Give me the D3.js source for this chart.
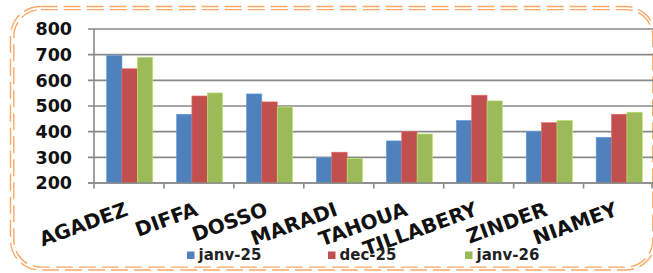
<!DOCTYPE html>
<html><head><meta charset="utf-8">
<script src="https://cdn.jsdelivr.net/npm/d3@7"></script>
<style>html,body{margin:0;padding:0;background:#fff;overflow:hidden}</style>
</head><body>
<svg id="c" width="653" height="273"></svg>
<script>
const categories = ["AGADEZ","DIFFA","DOSSO","MARADI","TAHOUA","TILLABERY","ZINDER","NIAMEY"];
const seriesNames = ["janv-25","dec-25","janv-26"];
const janv25 = [697, 468, 547, 299, 364, 444, 401, 378];
const dec25  = [645, 539, 516, 320, 400, 542, 435, 468];
const janv26 = [690, 551, 496, 296, 391, 520, 444, 476];
const yTicks = [200, 300, 400, 500, 600, 700, 800];
const colors = ["#4F81BD", "#C0504D", "#9BBB59"];

const seriesValues = [janv25, dec25, janv26];
const svg = d3.select("#c");

// decorative double dashed rounded border
const borderColor = "#F9A866";
[[10.5, 6.5, 645, 263.5, 30], [13.8, 9.6, 639, 257.5, 27]].forEach(([x, y, w, h, r]) => {
  svg.append("rect").attr("x", x).attr("y", y).attr("width", w).attr("height", h)
    .attr("rx", r).attr("ry", r).attr("fill", "none")
    .attr("stroke", borderColor).attr("stroke-width", 1.4)
    .attr("stroke-dasharray", "17 6");
});

const x0 = d3.scaleBand().domain(categories).range([94, 653.5]).padding(0);
const x1 = d3.scaleBand().domain(seriesNames)
  .range([x0.bandwidth() * 0.18, x0.bandwidth() * 0.84]).padding(0);
const y = d3.scaleLinear().domain([200, 800]).range([183, 29]);

const gridColor = "#8a8a8a";
// gridlines
svg.append("g").selectAll("line").data(yTicks).join("line")
  .attr("x1", 88).attr("x2", 653).attr("y1", d => y(d)).attr("y2", d => y(d))
  .attr("stroke", gridColor).attr("stroke-width", 1.6);

// y axis line
svg.append("line").attr("x1", 94).attr("x2", 94).attr("y1", y(800)).attr("y2", y(200) + 0.8)
  .attr("stroke", gridColor).attr("stroke-width", 1.6);

// bars
const groups = svg.append("g").selectAll("g").data(categories).join("g")
  .attr("transform", d => `translate(${x0(d)},0)`);
groups.selectAll("rect")
  .data((c, i) => seriesNames.map((s, k) => ({ s, v: seriesValues[k][i], k })))
  .join("rect")
  .attr("x", d => x1(d.s))
  .attr("y", d => y(d.v))
  .attr("width", x1.bandwidth())
  .attr("height", d => y(200) - y(d.v))
  .attr("fill", d => colors[d.k])
  .attr("stroke", d => d3.color(colors[d.k]).brighter(0.6))
  .attr("stroke-width", 0.6);

// bottom axis redrawn over bars
svg.append("line").attr("x1", 88).attr("x2", 653).attr("y1", y(200)).attr("y2", y(200))
  .attr("stroke", gridColor).attr("stroke-width", 1.6);
// x ticks at band boundaries
const bounds = categories.map(c => x0(c)).concat([x0.range()[1] - 1.5]);
svg.append("g").selectAll("line").data(bounds).join("line")
  .attr("x1", d => d).attr("x2", d => d).attr("y1", y(200)).attr("y2", y(200) + 5.5)
  .attr("stroke", gridColor).attr("stroke-width", 1.6);

// y tick labels
svg.append("g").selectAll("text").data(yTicks).join("text")
  .attr("x", 72).attr("y", d => y(d)).attr("dy", "0.36em")
  .attr("text-anchor", "end")
  .attr("font-family", "DejaVu Sans").attr("font-weight", "bold").attr("font-size", 17.5)
  .attr("fill", "#111").text(d => d);

// category labels rotated
svg.append("g").selectAll("text").data(categories).join("text")
  .attr("transform", d => `translate(${x0(d) + x0.bandwidth() / 2 - 5},201) rotate(-20)`)
  .attr("text-anchor", "end").attr("dy", "0.74em")
  .attr("font-family", "DejaVu Sans").attr("font-weight", "bold").attr("font-size", 20)
  .attr("fill", "#111").text(d => d);

// legend
const legendX = [187, 328, 465];
const lg = svg.append("g").selectAll("g").data(seriesNames).join("g")
  .attr("transform", (d, i) => `translate(${legendX[i]},0)`);
lg.append("rect").attr("x", 0).attr("y", 251.5).attr("width", 7.5).attr("height", 7.5)
  .attr("fill", (d, i) => colors[i]);
lg.append("text").attr("x", 11.5).attr("y", 259.5)
  .attr("font-family", "DejaVu Sans").attr("font-weight", "bold").attr("font-size", 15)
  .attr("fill", "#222").text(d => d);
</script>
</body></html>
